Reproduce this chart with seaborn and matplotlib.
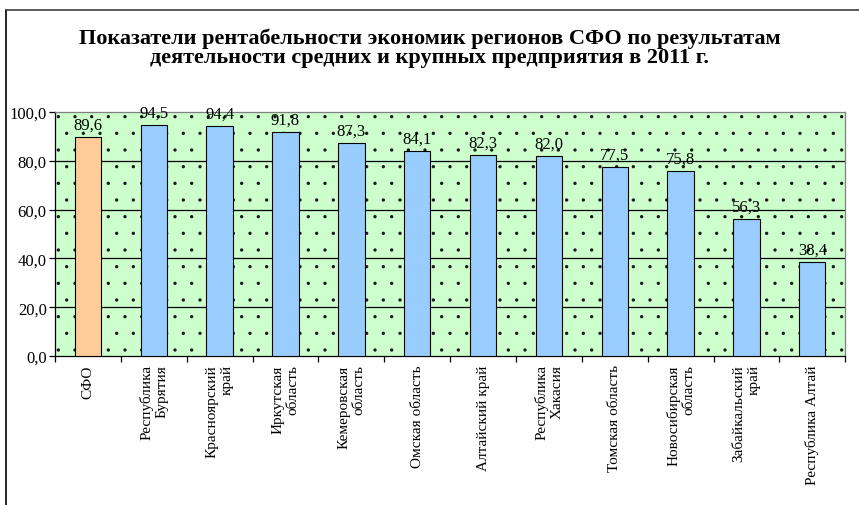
import numpy as np
import pandas as pd
import matplotlib
matplotlib.use("Agg")
import matplotlib.pyplot as plt
import seaborn as sns
from matplotlib.lines import Line2D
from matplotlib.patches import Rectangle

# данные
regions = ["СФО", "Республика\nБурятия", "Красноярский\nкрай", "Иркутская\nобласть",
           "Кемеровская\nобласть", "Омская область", "Алтайский край",
           "Республика\nХакасия", "Томская область", "Новосибирская\nобласть",
           "Забайкальский\nкрай", "Республика Алтай"]
values = [89.6, 94.5, 94.4, 91.8, 87.3, 84.1, 82.3, 82.0, 77.5, 75.8, 56.3, 38.4]
bar_colors = ["#FFCC99"] + ["#99CCFF"] * 11
y_ticks = [0, 20, 40, 60, 80, 100]

title = ("Показатели рентабельности экономик регионов СФО по результатам\n"
         "деятельности средних и крупных предприятия в 2011 г.")

df = pd.DataFrame({"region": regions, "value": values})

sns.set_style("white")
plt.rcParams['font.family'] = ['Liberation Serif', 'DejaVu Serif']
plt.rcParams['text.color'] = 'black'
plt.rcParams['xtick.color'] = 'black'
plt.rcParams['ytick.color'] = 'black'
plt.rcParams['hatch.color'] = '#1a1a1a'
plt.rcParams['hatch.linewidth'] = 0.0

fig = plt.figure(figsize=(8.59, 5.06), dpi=100)
ax = fig.add_axes([0.064, 0.2945, 0.92, 0.4822])

# фон с точечной штриховкой
ax.set_facecolor("#CCFFCC")
bg = Rectangle((0, 0), 1, 1, transform=ax.transAxes, facecolor="#CCFFCC",
               edgecolor="#1a1a1a", linewidth=0, hatch=".", zorder=0)
ax.add_patch(bg)

sns.barplot(data=df, x="region", y="value", hue="region", palette=bar_colors,
            legend=False, width=0.4, edgecolor="black", linewidth=0.8,
            saturation=1, ax=ax, zorder=3)

for i, v in enumerate(values):
    ax.text(i, v + 1.8, f"{v:.1f}".replace(".", ","), ha="center", va="bottom",
            fontsize=12, zorder=4)

ax.set_ylim(0, 100)
ax.set_xlim(-0.5, len(regions) - 0.5)
ax.set_yticks(y_ticks)
ax.set_yticklabels([f"{t:.1f}".replace(".", ",") for t in y_ticks], fontsize=12)
for t in y_ticks[1:-1]:
    ax.axhline(t, color="black", linewidth=0.9, zorder=1)

ax.set_xticks(range(len(regions)))
ax.set_xticklabels(regions, rotation=90, ha="center", va="top", fontsize=11,
                   multialignment="right")
ax.tick_params(axis="x", which="major", length=0, pad=6)
ax.set_xticks(np.arange(-0.5, len(regions)), minor=True)
ax.tick_params(axis="x", which="minor", bottom=True, length=4, width=0.9,
               direction="out")
ax.tick_params(axis="y", left=True, length=4, width=0.9, direction="out", pad=2)
ax.set_xlabel("")
ax.set_ylabel("")

for s in ["left", "bottom"]:
    ax.spines[s].set_color("black")
    ax.spines[s].set_linewidth(0.9)
for s in ["top", "right"]:
    ax.spines[s].set_color("#808080")
    ax.spines[s].set_linewidth(0.9)

fig.text(0.5, 0.905, title, ha="center", va="center", fontsize=16,
         fontweight="bold", linespacing=0.95)

# рамка
fig.add_artist(Line2D([0.007, 0.007], [0.0, 0.978], color="black", linewidth=1.2))
fig.add_artist(Line2D([0.007, 1.0], [0.978, 0.978], color="#404040", linewidth=1.2))

fig.savefig("out.png", dpi=100)
